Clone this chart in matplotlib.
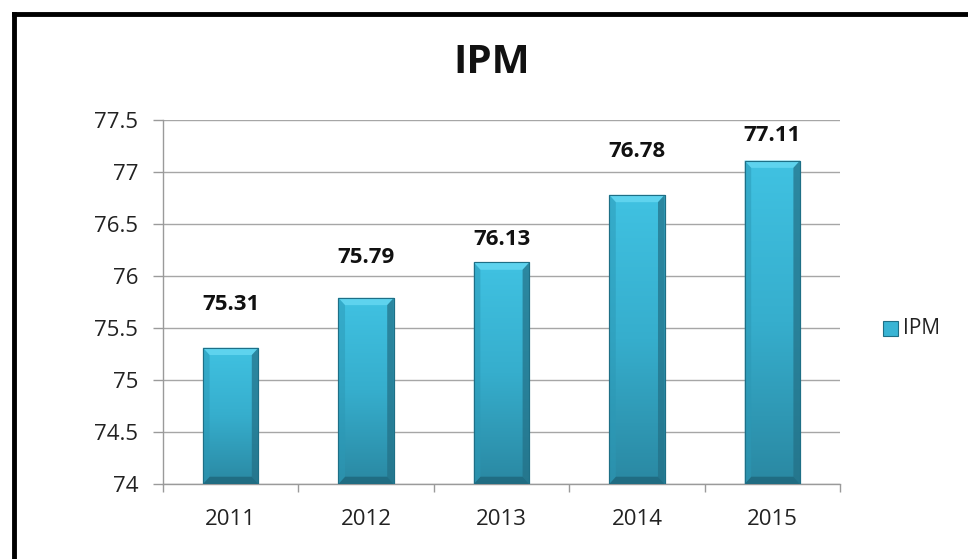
import matplotlib
matplotlib.use("Agg")
import matplotlib.pyplot as plt
import numpy as np
from matplotlib.patches import Polygon, Rectangle
from matplotlib.colors import LinearSegmentedColormap

years = ["2011", "2012", "2013", "2014", "2015"]
ipm = [75.31, 75.79, 76.13, 76.78, 77.11]
yticks = [74, 74.5, 75, 75.5, 76, 76.5, 77, 77.5]
ytick_labels = ["74", "74.5", "75", "75.5", "76", "76.5", "77", "77.5"]
# label offsets above bar tops (pixels), as placed in the original
label_offsets_px = [43, 40, 23, 43, 25]

plt.rcParams['font.family'] = ['Open Sans', 'DejaVu Sans']

fig = plt.figure(figsize=(9.68, 5.59), dpi=100)
ax = fig.add_axes([163/968, 1-484/559, (840-163)/968, (484-120)/559])

ymin, ymax = 74, 77.5
ax.set_ylim(ymin, ymax)
ax.set_xlim(-0.5, len(years)-0.5)

x = np.arange(len(years))
w = 0.41
bars = ax.bar(x, [v - ymin for v in ipm], bottom=ymin, width=w, color='#38B4D4',
              edgecolor='#1E6F86', linewidth=0.8, zorder=3)

cmap = LinearSegmentedColormap.from_list('g', ['#2A88A2', '#36AECD', '#40C2E2'])
grad = np.linspace(0, 1, 256).reshape(-1, 1)
for b in bars:
    x0, y0 = b.get_x(), b.get_y()
    bw, bh = b.get_width(), b.get_height()
    im = ax.imshow(grad, extent=[x0, x0+bw, y0, y0+bh], origin='lower', cmap=cmap,
                   aspect='auto', zorder=3.5)
    im.set_clip_path(b)
    dx = bw*0.12
    dy = 0.07
    ax.add_patch(Polygon([[x0, y0+bh], [x0+bw, y0+bh], [x0+bw-dx, y0+bh-dy], [x0+dx, y0+bh-dy]],
                         closed=True, facecolor='#62D6F0', edgecolor='none', zorder=4, alpha=0.9))
    ax.add_patch(Polygon([[x0+bw, y0+bh], [x0+bw, y0], [x0+bw-dx, y0+dy], [x0+bw-dx, y0+bh-dy]],
                         closed=True, facecolor='#236F85', edgecolor='none', zorder=4, alpha=0.7))
    ax.add_patch(Polygon([[x0, y0], [x0+bw, y0], [x0+bw-dx, y0+dy], [x0+dx, y0+dy]],
                         closed=True, facecolor='#1B5E72', edgecolor='none', zorder=4, alpha=0.65))
    ax.add_patch(Polygon([[x0, y0+bh], [x0, y0], [x0+dx, y0+dy], [x0+dx, y0+bh-dy]],
                         closed=True, facecolor='#2C98B5', edgecolor='none', zorder=4, alpha=0.5))
    ax.add_patch(Rectangle((x0, y0), bw, bh, facecolor='none', edgecolor='#1E6F86',
                           linewidth=0.8, zorder=5))

for xi, v, off in zip(x, ipm, label_offsets_px):
    ax.annotate(f"{v:.2f}", xy=(xi, v), xytext=(0, off*0.72), textcoords='offset points',
                ha='center', va='center', fontsize=16, fontweight='bold', color='#111111')

ax.set_yticks(yticks)
ax.set_yticklabels(ytick_labels)
ax.set_xticks(x)
ax.set_xticklabels(years)
ax.set_xticks(np.arange(-0.5, len(years)), minor=True)
ax.tick_params(axis='x', which='major', length=0, pad=18, labelsize=16, colors='#222222')
ax.tick_params(axis='x', which='minor', length=6, color='#9A9A9A', width=1)
ax.tick_params(axis='y', length=7, color='#9A9A9A', width=1, labelsize=16, pad=11,
               labelcolor='#222222')
ax.grid(axis='y', color='#A6A6A6', linewidth=1, zorder=0)
ax.set_axisbelow(True)
for s in ['top', 'right']:
    ax.spines[s].set_visible(False)
for s in ['left', 'bottom']:
    ax.spines[s].set_color('#9A9A9A')
    ax.spines[s].set_linewidth(1)

fig.text(492/968, 1-62/559, "IPM", ha='center', va='center', fontsize=29, fontweight='bold',
         color='#111111')

# legend
lx, ly = 890/968, 1-328/559
fig.patches.append(Rectangle((lx-7.5/968, ly-7.5/559), 15/968, 15/559, transform=fig.transFigure,
                             facecolor='#38B4D4', edgecolor='#1E6F86', linewidth=0.8))
fig.text(903/968, ly, "IPM", ha='left', va='center', fontsize=15, color='#222222')

# border lines (left and top)
fig.add_artist(plt.Line2D([13.5/968, 13.5/968], [0, 1-13.5/559], transform=fig.transFigure,
                          color='black', linewidth=3.5, solid_capstyle='projecting'))
fig.add_artist(plt.Line2D([13.5/968, 1], [1-13.5/559, 1-13.5/559], transform=fig.transFigure,
                          color='black', linewidth=3.5, solid_capstyle='projecting'))

fig.savefig("out.png", dpi=100)
